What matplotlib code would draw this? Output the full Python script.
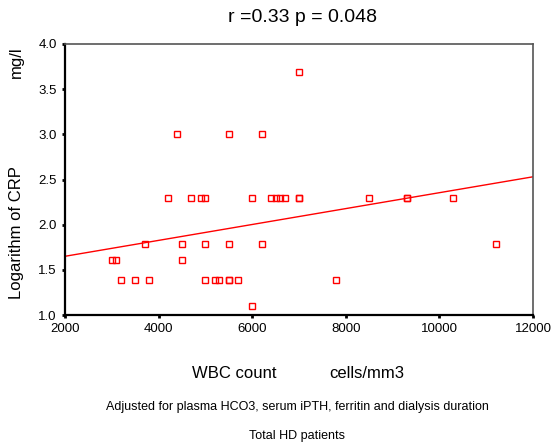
import matplotlib
matplotlib.use("Agg")
import matplotlib.pyplot as plt
import numpy as np

plt.rcParams['font.family'] = ['Liberation Sans', 'DejaVu Sans']

wbc = [7000, 4400, 5500, 6200,
       4200, 4700, 4900, 5000, 6000, 6400, 6500, 6600, 6700, 7000, 7000, 8500, 9300, 9300, 10300,
       3700, 4500, 5000, 5500, 6200, 11200,
       3000, 3100, 4500,
       3200, 3500, 3800, 5000, 5200, 5300, 5500, 5500, 5700, 7800,
       6000]
log_crp = [3.69, 3.00, 3.00, 3.00,
           2.30, 2.30, 2.30, 2.30, 2.30, 2.30, 2.30, 2.30, 2.30, 2.30, 2.30, 2.30, 2.30, 2.30, 2.30,
           1.79, 1.79, 1.79, 1.79, 1.79, 1.79,
           1.61, 1.61, 1.61,
           1.39, 1.39, 1.39, 1.39, 1.39, 1.39, 1.39, 1.39, 1.39, 1.39,
           1.10]
fit_x = [2000, 12000]
fit_y = [1.65, 2.53]
xticks = [2000, 4000, 6000, 8000, 10000, 12000]
yticks = [1.0, 1.5, 2.0, 2.5, 3.0, 3.5, 4.0]

fig = plt.figure(figsize=(5.52, 4.45), dpi=100)
ax = fig.add_axes([65/552, 1 - 315/445, (533-65)/552, (315-44)/445])
ax.plot(wbc, log_crp, linestyle='none', marker='s', markersize=5,
        markerfacecolor='none', markeredgecolor='red', markeredgewidth=1)
ax.plot(fit_x, fit_y, color='red', linewidth=1)
ax.set_xlim(2000, 12000)
ax.set_ylim(1.0, 4.0)
ax.set_xticks(xticks)
ax.set_xticklabels([str(v) for v in xticks], fontsize=9.5)
ax.set_yticks(yticks)
ax.set_yticklabels([f"{v:.1f}" for v in yticks], fontsize=9.5)
ax.tick_params(direction='out', length=2, width=2, color='black', pad=4)
for s in ['left', 'bottom']:
    ax.spines[s].set_linewidth(1.6)
    ax.spines[s].set_color('black')
for s in ['top', 'right']:
    ax.spines[s].set_linewidth(1.2)
    ax.spines[s].set_color('#555555')

fig.text(302/552, 1 - 17/445, "r =0.33 p = 0.048", ha='center', va='center', fontsize=14)
fig.text(17/552, 1 - 233/445, "Logarithm of CRP", ha='center', va='center', rotation=90, fontsize=12)
fig.text(16/552, 1 - 62/445, "mg/l", ha='center', va='center', rotation=90, fontsize=12)
fig.text(192/552, 1 - 373/445, "WBC count", ha='left', va='center', fontsize=12)
fig.text(329/552, 1 - 373/445, "cells/mm3", ha='left', va='center', fontsize=12)
fig.text(297/552, 1 - 407/445, "Adjusted for plasma HCO3, serum iPTH, ferritin and dialysis duration",
         ha='center', va='center', fontsize=9)
fig.text(297/552, 1 - 436/445, "Total HD patients", ha='center', va='center', fontsize=9)

fig.savefig("out.png", dpi=100)
